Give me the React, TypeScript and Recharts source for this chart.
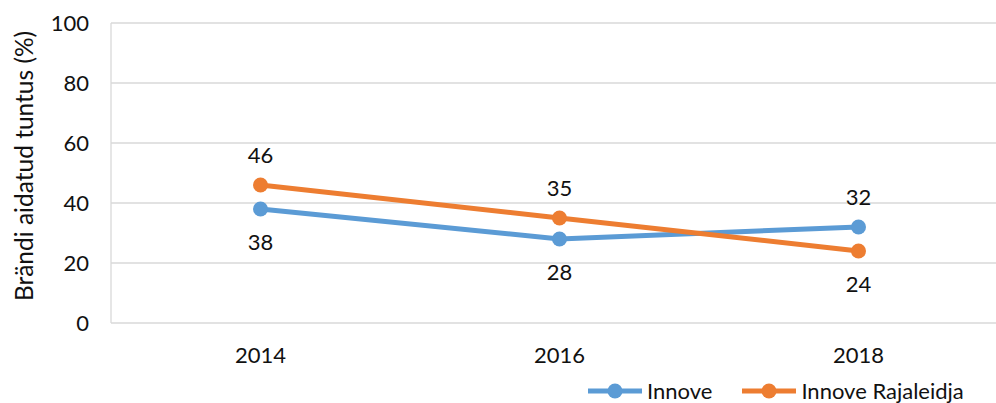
import { LineChart, Line, XAxis, YAxis, CartesianGrid, Legend, Label } from 'recharts';

const years = ['2014', '2016', '2018'];
const innove = [38, 28, 32];
const rajaleidja = [46, 35, 24];
const yTicks = [0, 20, 40, 60, 80, 100];

const seriesInfo = [
    { key: 'innove', name: 'Innove', color: '#5B9BD5', values: innove, other: rajaleidja },
    { key: 'rajaleidja', name: 'Innove Rajaleidja', color: '#ED7D31', values: rajaleidja, other: innove },
];

const data = years.map((year, i) => ({
    year,
    innove: innove[i],
    rajaleidja: rajaleidja[i],
}));

const FONT = 'Lato, "Open Sans", sans-serif';
const TEXT = '#111';
const FS = 22;

// put the label above the point when this series is the higher one, else below
const makeLabel = (values: number[], other: number[]) => (props: any) => {
    const { x, y, index, value } = props;
    const above = values[index] >= other[index];
    const ly = above ? y - 30 : y + 33;
    return (
        <text
            key={`lbl-${index}`}
            x={x}
            y={ly}
            dy="0.36em"
            textAnchor="middle"
            fill={TEXT}
            fontSize={FS}
            fontFamily={FONT}
        >
            {value}
        </text>
    );
};

const LegendContent = () => (
    <div
        style={{
            display: 'flex',
            alignItems: 'center',
            height: 22,
            lineHeight: '22px',
            fontFamily: FONT,
            fontSize: FS,
            color: TEXT,
        }}
    >
        {seriesInfo.map((s, i) => (
            <div key={s.key} style={{ display: 'flex', alignItems: 'center', marginRight: i === 0 ? 30 : 0 }}>
                <svg width={54} height={16} style={{ marginRight: 5, display: 'block' }}>
                    <line x1={0} y1={8} x2={54} y2={8} stroke={s.color} strokeWidth={5} strokeLinecap="round" />
                    <circle cx={27} cy={8} r={7.5} fill={s.color} />
                </svg>
                <span>{s.name}</span>
            </div>
        ))}
    </div>
);

const YLabel = () => {
    const cy = 166;
    return (
        <text
            x={23}
            y={cy}
            transform={`rotate(-90 23 ${cy})`}
            textAnchor="middle"
            dominantBaseline="central"
            fill={TEXT}
            fontSize={24.5}
            fontFamily={FONT}
        >
            Brändi aidatud tuntus (%)
        </text>
    );
};

export default function App() {
    return (
        <div style={{ position: 'absolute', left: 0, top: 0, width: 996, height: 403, overflow: 'hidden', background: '#fff' }}>
            <LineChart width={1008} height={403} data={data} margin={{ top: 23, right: 0, bottom: 0, left: 0 }}>
                <CartesianGrid horizontal vertical={false} stroke="#D9D9D9" strokeWidth={1.3} />
                <XAxis
                    dataKey="year"
                    height={80}
                    axisLine={false}
                    tickLine={false}
                    tickSize={0}
                    tickMargin={24}
                    padding={{ left: 149.5, right: 149.5 }}
                    tick={{ fill: TEXT, fontSize: FS, fontFamily: FONT }}
                />
                <YAxis
                    width={111}
                    domain={[0, 100]}
                    ticks={yTicks}
                    axisLine={{ stroke: '#D9D9D9', strokeWidth: 1.3 }}
                    tickLine={false}
                    tickSize={0}
                    tickMargin={22}
                    tick={{ fill: TEXT, fontSize: FS, fontFamily: FONT }}
                >
                    <Label content={<YLabel />} />
                </YAxis>
                <Legend
                    layout="horizontal"
                    verticalAlign="middle"
                    align="center"
                    content={<LegendContent />}
                    wrapperStyle={{ top: 380, left: 588, width: 400, height: 22 }}
                />
                {seriesInfo.map((s) => (
                    <Line
                        key={s.key}
                        dataKey={s.key}
                        name={s.name}
                        stroke={s.color}
                        strokeWidth={5}
                        dot={{ r: 7.5, fill: s.color, stroke: s.color, strokeWidth: 0 }}
                        activeDot={false}
                        label={makeLabel(s.values, s.other)}
                        isAnimationActive={false}
                    />
                ))}
            </LineChart>
        </div>
    );
}
